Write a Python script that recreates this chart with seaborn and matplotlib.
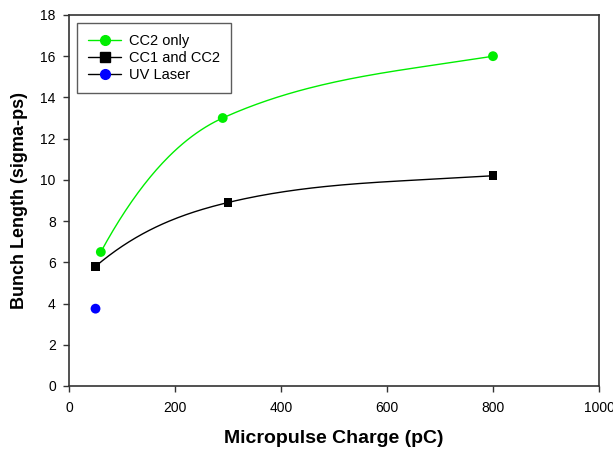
import numpy as np
import seaborn as sns
import matplotlib.pyplot as plt
from matplotlib.lines import Line2D

# data
cc2_x = [60, 290, 800]
cc2_y = [6.5, 13.0, 16.0]
cc12_x = [50, 300, 800]
cc12_y = [5.8, 8.9, 10.2]
uv_x = [50]
uv_y = [3.75]
series_names = ['CC2 only', 'CC1 and CC2', 'UV Laser']
series_colors = ['#00ee00', 'black', '#0000ff']

# tangents of the smooth curve at each point (shape of the drawn spline)
cc2_tan = [0.0473, 0.0116, 0.0042]
cc12_tan = [0.0219, 0.0062, 0.0018]


def hermite_curve(x, y, m, n=80):
    # smooth line through the measured points (like the original plot program)
    xs_all, ys_all = [], []
    for i in range(len(x) - 1):
        h = x[i + 1] - x[i]
        t = np.linspace(0, 1, n)
        h00 = 2 * t**3 - 3 * t**2 + 1
        h10 = t**3 - 2 * t**2 + t
        h01 = -2 * t**3 + 3 * t**2
        h11 = t**3 - t**2
        xs_all.append(x[i] + t * h)
        ys_all.append(h00 * y[i] + h10 * h * m[i] + h01 * y[i + 1] + h11 * h * m[i + 1])
    return np.concatenate(xs_all), np.concatenate(ys_all)


sns.set_style('white')
plt.rcParams['font.family'] = ['Liberation Sans', 'DejaVu Sans']
plt.rcParams['text.color'] = 'black'

fig = plt.figure(figsize=(6.13, 4.53), dpi=100)
ax = fig.add_axes([0.1126, 0.148, 0.8645, 0.819])

sx, sy = hermite_curve(cc2_x, cc2_y, cc2_tan)
sns.lineplot(x=sx, y=sy, color=series_colors[0], lw=1, ax=ax, sort=False)
sx, sy = hermite_curve(cc12_x, cc12_y, cc12_tan)
sns.lineplot(x=sx, y=sy, color=series_colors[1], lw=1, ax=ax, sort=False)

sns.scatterplot(x=cc2_x, y=cc2_y, color=series_colors[0], marker='o', s=50,
                edgecolor='none', ax=ax, zorder=3)
sns.scatterplot(x=cc12_x, y=cc12_y, color=series_colors[1], marker='s', s=40,
                edgecolor='none', ax=ax, zorder=3)
sns.scatterplot(x=uv_x, y=uv_y, color=series_colors[2], marker='o', s=50,
                edgecolor='none', ax=ax, zorder=3)

ax.set_xlim(0, 1000)
ax.set_ylim(0, 18)
ax.set_xticks(range(0, 1001, 200))
ax.set_yticks(range(0, 19, 2))
ax.tick_params(axis='both', direction='out', length=4.5, width=1, color='#333333',
               labelcolor='black', labelsize=10,
               bottom=True, left=True, top=False, right=False)
ax.tick_params(axis='x', pad=6)
ax.tick_params(axis='y', pad=5)
for sp in ax.spines.values():
    sp.set_color('#333333')
    sp.set_linewidth(1.2)

ax.set_xlabel('Micropulse Charge (pC)', fontsize=14, fontweight='bold', labelpad=11,
              color='black')
ax.set_ylabel('Bunch Length (sigma-ps)', fontsize=13, fontweight='bold', labelpad=9,
              color='black')

handles = [Line2D([0], [0], color=series_colors[0], lw=1, marker='o', markersize=7,
                  markeredgecolor=series_colors[0]),
           Line2D([0], [0], color='black', lw=1, marker='s', markersize=6.5),
           Line2D([0], [0], color='black', lw=1, marker='o', markersize=7,
                  markerfacecolor=series_colors[2], markeredgecolor=series_colors[2])]
leg = ax.legend(handles, series_names, loc='upper left', fontsize=10.5, frameon=True,
                fancybox=False, edgecolor='#333333', borderpad=0.75, handlelength=2.3,
                handletextpad=0.55, labelspacing=0.2, borderaxespad=0,
                bbox_to_anchor=(0.015, 0.978))
leg.get_frame().set_linewidth(1)
for t in leg.get_texts():
    t.set_color('black')

fig.savefig('out.png', dpi=100)
